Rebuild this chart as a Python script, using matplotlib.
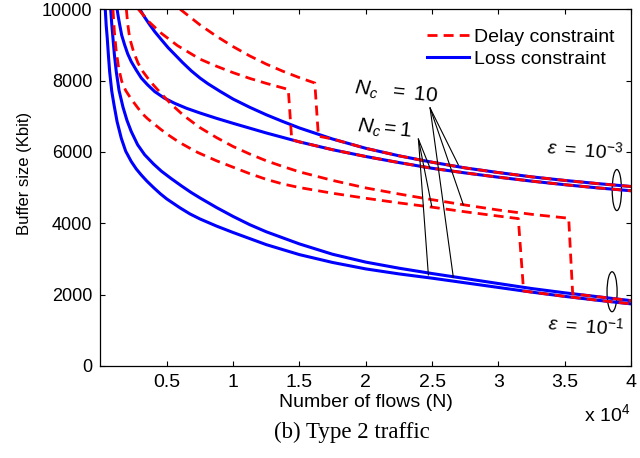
import matplotlib
matplotlib.use("Agg")
import matplotlib.pyplot as plt
from matplotlib.patches import Ellipse

plt.rcParams['font.family'] = ['Liberation Sans', 'DejaVu Sans']
plt.rcParams['mathtext.fontset'] = 'custom'
plt.rcParams['mathtext.rm'] = 'Liberation Sans'
plt.rcParams['mathtext.it'] = 'Liberation Sans:italic'

# loss constraint curves (number of flows, buffer size in Kbit)
loss_n1_e1_N = [360, 430, 510, 600, 690, 850, 1020, 1250, 1570, 1900, 2320, 2700, 3080, 3500,
                4000, 4500, 5000, 6000, 6750, 7500, 8750, 10000, 12500, 15000, 17500, 20000,
                22500, 25000, 27500, 30000, 32500, 35000, 37500, 40000]
loss_n1_e1_B = [10000, 9550, 9190, 8700, 8250, 7700, 7320, 6850, 6380, 6020, 5730, 5520, 5350,
                5180, 5000, 4830, 4680, 4430, 4260, 4120, 3920, 3740, 3400, 3120, 2900, 2720,
                2580, 2460, 2330, 2200, 2070, 1950, 1840, 1740]

loss_n10_e1_N = [770, 850, 940, 1050, 1190, 1400, 1700, 2000, 2320, 2800, 3330, 4000, 4590, 5300,
                 6090, 6800, 7500, 8750, 10000, 11250, 12500, 15000, 17500, 20000, 22500, 25000,
                 27500, 30000, 32500, 35000, 37500, 40000]
loss_n10_e1_B = [10000, 9580, 9190, 8720, 8250, 7720, 7250, 6880, 6570, 6200, 5920, 5660, 5460,
                 5260, 5050, 4870, 4710, 4440, 4190, 3960, 3760, 3420, 3130, 2910, 2740, 2590,
                 2450, 2310, 2170, 2050, 1940, 1830]

loss_n1_e3_N = [1250, 1350, 1450, 1600, 1820, 2050, 2320, 2700, 3080, 3550, 4090, 4800, 5600,
                6500, 7500, 8750, 10000, 12500, 15000, 17500, 20000, 22500, 25000, 27500, 30000,
                32500, 35000, 37500, 40000]
loss_n1_e3_B = [10000, 9770, 9560, 9270, 9000, 8750, 8530, 8290, 8070, 7880, 7690, 7510, 7360,
                7220, 7090, 6940, 6800, 6530, 6280, 6060, 5870, 5700, 5540, 5410, 5290, 5180,
                5080, 4990, 4910]

loss_n10_e3_N = [2960, 3300, 3700, 4090, 4600, 5100, 5600, 6200, 6850, 7500, 8100, 9000, 10000,
                 11250, 12500, 13750, 15000, 17500, 20000, 22500, 25000, 27500, 30000, 32500,
                 35000, 37500, 40000]
loss_n10_e3_B = [10000, 9790, 9570, 9370, 9140, 8920, 8730, 8500, 8270, 8070, 7910, 7700, 7480,
                 7250, 7040, 6850, 6670, 6360, 6100, 5890, 5710, 5550, 5420, 5300, 5200, 5110,
                 5030]

# delay constraint curves: part before the step, then the point just after the step
delay_n10_e3_N = [6000, 7500, 8750, 10000, 11250, 12500, 13750, 15000, 16160, 16430]
delay_n10_e3_B = [10000, 9560, 9240, 8950, 8690, 8460, 8260, 8080, 7930, 6440]

delay_n1_e3_N = [2850, 3700, 4600, 5800, 7500, 8750, 10000, 11250, 12500, 14160, 14420]
delay_n1_e3_B = [10000, 9630, 9320, 8980, 8600, 8400, 8220, 8060, 7920, 7750, 6340]

delay_n10_e1_N = [1950, 2050, 2200, 2500, 2830, 3200, 3580, 4000, 4460, 5290, 6300, 7500, 8750,
                  10000, 11250, 12500, 13750, 15000, 17500, 20000, 22500, 25000, 27500, 30000,
                  32500, 35300, 35600]
delay_n10_e1_B = [10000, 9600, 9190, 8800, 8490, 8250, 8060, 7870, 7680, 7350, 7010, 6680, 6400,
                  6150, 5940, 5750, 5590, 5440, 5200, 4990, 4820, 4660, 4510, 4370, 4250,
                  4140, 2020]

delay_n1_e1_N = [940, 1050, 1180, 1370, 1600, 1900, 2320, 2700, 3130, 3550, 4010, 4550, 5090,
                 5650, 6220, 6800, 7350, 8750, 10000, 11250, 12500, 13750, 15000, 17500, 20000,
                 22500, 25000, 27500, 30000, 31500, 31900]
delay_n1_e1_B = [10000, 9350, 8850, 8350, 7980, 7720, 7480, 7290, 7080, 6930, 6790, 6630, 6480,
                 6340, 6210, 6090, 5980, 5750, 5570, 5390, 5230, 5100, 5000, 4840, 4700,
                 4570, 4450, 4320, 4200, 4130, 2100]

x_ticks = [5000, 10000, 15000, 20000, 25000, 30000, 35000, 40000]
x_tick_labels = ['0.5', '1', '1.5', '2', '2.5', '3', '3.5', '4']
y_ticks = [0, 2000, 4000, 6000, 8000, 10000]


def with_tail(N, B, loss_N, loss_B):
    # after the step the delay curve runs on top of the loss curve
    tail = [(n, b) for n, b in zip(loss_N, loss_B) if n > N[-1]]
    return N + [t[0] for t in tail], B + [t[1] for t in tail]


fig = plt.figure(figsize=(6.4, 4.58), dpi=100)
ax = fig.add_axes([0.157, 0.201, 0.829, 0.779])

blue = '#0000ff'
red = '#ff0000'
for N, B in [(loss_n1_e1_N, loss_n1_e1_B), (loss_n10_e1_N, loss_n10_e1_B),
             (loss_n1_e3_N, loss_n1_e3_B), (loss_n10_e3_N, loss_n10_e3_B)]:
    loss_line, = ax.plot(N, B, color=blue, lw=2.2)

delay_sets = [
    with_tail(delay_n10_e3_N, delay_n10_e3_B, loss_n10_e3_N, loss_n10_e3_B),
    with_tail(delay_n1_e3_N, delay_n1_e3_B, loss_n1_e3_N, loss_n1_e3_B),
    with_tail(delay_n10_e1_N, delay_n10_e1_B, loss_n10_e1_N, loss_n10_e1_B),
    with_tail(delay_n1_e1_N, delay_n1_e1_B, loss_n1_e1_N, loss_n1_e1_B),
]
for N, B in delay_sets:
    delay_line, = ax.plot(N, B, color=red, lw=2.0, dashes=(3.6, 2.2))

ax.set_xlim(0, 40000)
ax.set_ylim(0, 10000)
ax.set_xticks(x_ticks)
ax.set_xticklabels(x_tick_labels)
ax.set_yticks(y_ticks)
ax.tick_params(direction='in', top=True, right=True, length=3.6, width=0.8)
ax.tick_params(axis='x', labelsize=14, pad=6)
ax.tick_params(axis='y', labelsize=13, pad=6)
for sp in ax.spines.values():
    sp.set_linewidth(0.9)

ax.set_xlabel('Number of flows (N)', fontsize=14)
ax.xaxis.set_label_coords(0.5, -0.08)
ax.set_ylabel('Buffer size (Kbit)', fontsize=12)
ax.yaxis.set_label_coords(-0.13, 0.54)

ax.legend([delay_line, loss_line], ['Delay constraint', 'Loss constraint'],
          loc='upper right', bbox_to_anchor=(0.995, 0.985), frameon=False, fontsize=14,
          handlelength=2.2, handletextpad=0.25, labelspacing=0.25, borderaxespad=0.3)

# annotations
nc10_origin = (24850, 7230)
nc10_targets = [(26980, 5635), (27360, 4514), (26600, 2487)]
nc1_origin = (23970, 6356)
nc1_targets = [(24850, 5543), (24980, 4466), (24720, 2551)]
for tx, ty in nc10_targets:
    ax.plot([nc10_origin[0], tx], [nc10_origin[1], ty], color='black', lw=0.8)
for tx, ty in nc1_targets:
    ax.plot([nc1_origin[0], tx], [nc1_origin[1], ty], color='black', lw=0.8)

ax.text(22280, 7650, r'$\mathit{N_c\ \ =\ 10}$', fontsize=15, rotation=-6, ha='center', va='center')
ax.text(21380, 6640, r'$\mathit{N_c = 1}$', fontsize=15, rotation=-6, ha='center', va='center')
ax.text(36540, 6060, r'$\mathit{\varepsilon\ =\ 10^{-3}}$', fontsize=14, rotation=-5, ha='center', va='center')
ax.text(36600, 1120, r'$\mathit{\varepsilon\ =\ 10^{-1}}$', fontsize=14, rotation=-5, ha='center', va='center')

ax.add_patch(Ellipse((38930, 4930), 700, 1150, fill=False, ec='black', lw=0.9))
ax.add_patch(Ellipse((38570, 2080), 760, 1120, fill=False, ec='black', lw=0.9))

fig.text(630 / 640, 1 - 414 / 458, r'x 10$^4$', fontsize=14, ha='right', va='center')
fig.text(352 / 640, 1 - 432 / 458, '(b) Type 2 traffic', fontsize=16.5, ha='center', va='center',
         family='Liberation Serif')

fig.savefig('out.png', dpi=100)
